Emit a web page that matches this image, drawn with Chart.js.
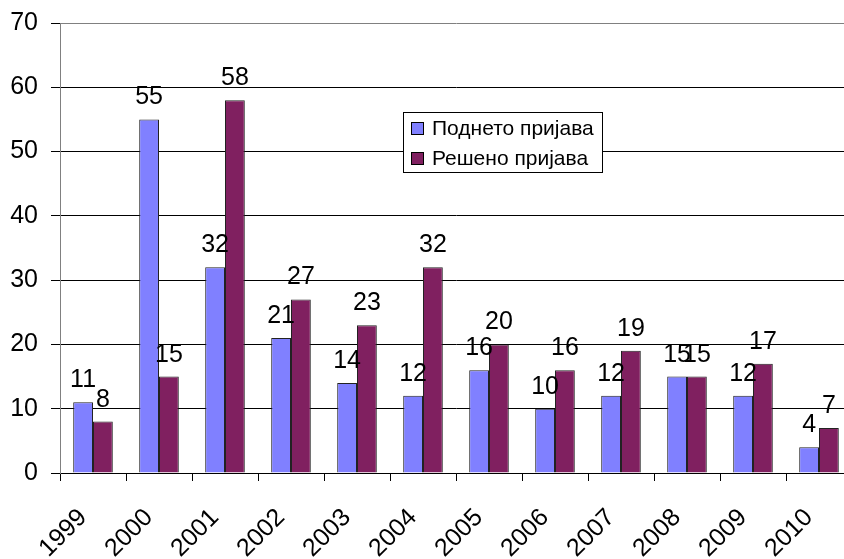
<!DOCTYPE html>
<html>
<head>
<meta charset="utf-8">
<script src="https://cdn.jsdelivr.net/npm/chart.js@4/dist/chart.umd.min.js"></script>
<style>
  html, body { margin: 0; padding: 0; background: #fff; overflow: hidden; }
  /* the original plot runs a little past the right edge of the picture */
  #wrap { width: 852px; height: 559px; position: relative; }
</style>
</head>
<body>
<div id="wrap"><canvas id="chart"></canvas></div>
<script>
const years = ['1999', '2000', '2001', '2002', '2003', '2004', '2005', '2006', '2007', '2008', '2009', '2010'];
const submitted = [11, 55, 32, 21, 14, 12, 16, 10, 12, 15, 12, 4];
const resolved = [8, 15, 58, 27, 23, 32, 20, 16, 19, 15, 17, 7];
const yTicks = [0, 10, 20, 30, 40, 50, 60, 70];

const FONT = '"Liberation Sans", Arial, sans-serif';

// value labels above each bar
const valueLabels = {
    id: 'valueLabels',
    afterDatasetsDraw(chart) {
        const ctx = chart.ctx;
        ctx.save();
        ctx.font = '25px ' + FONT;
        ctx.fillStyle = '#000';
        ctx.textAlign = 'center';
        ctx.textBaseline = 'alphabetic';
        chart.data.datasets.forEach((ds, i) => {
            chart.getDatasetMeta(i).data.forEach((bar, j) => {
                ctx.fillText(ds.data[j], bar.x, bar.y - 15);
            });
        });
        ctx.restore();
    }
};

// legend box inside the plot area
const boxLegend = {
    id: 'boxLegend',
    afterDraw(chart) {
        const ctx = chart.ctx;
        const x = 403, y = 112, w = 199, h = 60;
        ctx.save();
        ctx.fillStyle = '#fff';
        ctx.fillRect(x, y, w, h);
        ctx.strokeStyle = '#000';
        ctx.lineWidth = 1;
        ctx.strokeRect(x + 0.5, y + 0.5, w, h);
        ctx.font = '21px ' + FONT;
        ctx.textBaseline = 'middle';
        chart.data.datasets.forEach((ds, i) => {
            const cy = y + 16 + i * 30;
            ctx.fillStyle = ds.backgroundColor;
            ctx.fillRect(x + 8, cy - 6, 12, 12);
            ctx.strokeStyle = '#000';
            ctx.strokeRect(x + 8.5, cy - 5.5, 12, 12);
            ctx.fillStyle = '#000';
            ctx.fillText(ds.label, x + 29, cy + 1);
        });
        ctx.restore();
    }
};

new Chart(document.getElementById('chart'), {
    type: 'bar',
    data: {
        labels: years,
        datasets: [{
            label: 'Поднето пријава',
            data: submitted,
            backgroundColor: '#8080FF',
            borderColor: '#222',
            borderWidth: 1
        }, {
            label: 'Решено пријава',
            data: resolved,
            backgroundColor: '#802060',
            borderColor: '#222',
            borderWidth: 1
        }]
    },
    options: {
        responsive: true,
        maintainAspectRatio: false,
        animation: false,
        layout: { padding: { top: 23, right: 0, left: 0, bottom: 0 } },
        plugins: {
            legend: { display: false },
            tooltip: { enabled: false }
        },
        datasets: {
            bar: { categoryPercentage: 0.6, barPercentage: 1.0 }
        },
        scales: {
            x: {
                grid: {
                    drawOnChartArea: false,
                    drawTicks: true,
                    tickLength: 8,
                    tickColor: '#000',
                    offset: true
                },
                border: { color: '#000', width: 1 },
                ticks: {
                    color: '#000',
                    font: { family: FONT, size: 25 },
                    maxRotation: 45,
                    minRotation: 45,
                    labelOffset: -10,
                    padding: 22
                },
                afterFit: (s) => {
                    s.height = 86;
                    s.paddingLeft = 0;
                    s.paddingRight = 0;
                }
            },
            y: {
                min: 0,
                max: 70,
                afterBuildTicks: (s) => { s.ticks = yTicks.map(v => ({ value: v })); },
                grid: {
                    // top line is the grey plot border
                    color: (c) => (c.tick && c.tick.value === 70 ? '#808080' : '#000'),
                    tickLength: 9,
                    tickColor: '#000'
                },
                border: { color: '#808080', width: 1 },
                ticks: {
                    color: '#000',
                    font: { family: FONT, size: 25 },
                    padding: 13
                },
                afterFit: (s) => {
                    s.width = 60;
                    s.paddingTop = 0;
                    s.paddingBottom = 0;
                }
            }
        }
    },
    plugins: [valueLabels, boxLegend]
});
</script>
</body>
</html>
